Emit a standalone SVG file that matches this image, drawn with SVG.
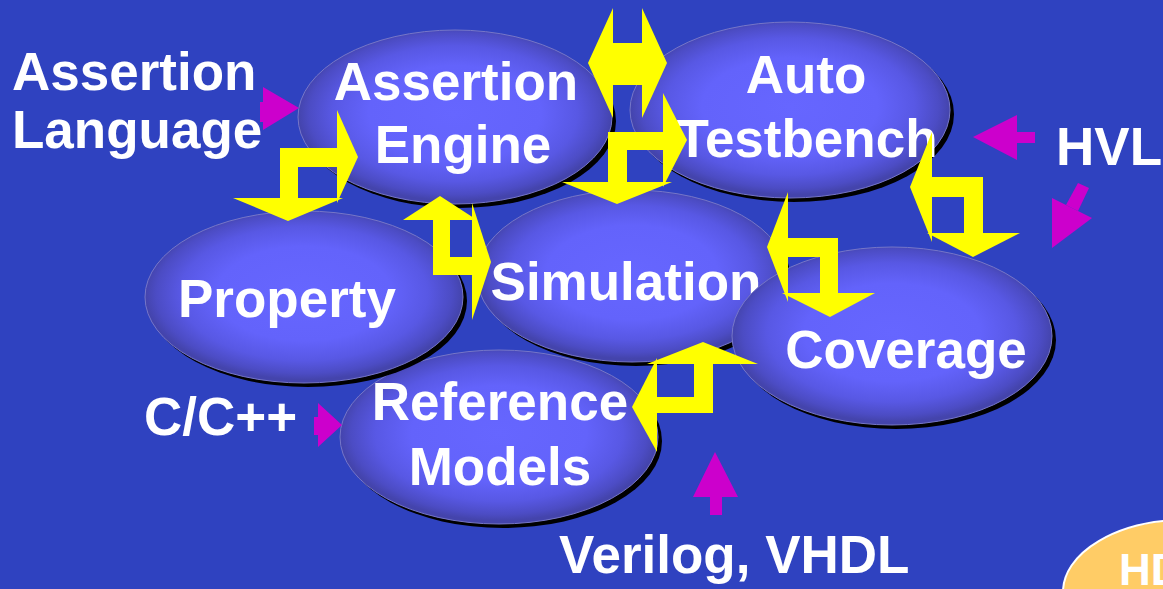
<svg xmlns="http://www.w3.org/2000/svg" width="1163" height="589" viewBox="0 0 1163 589">
<defs>
<radialGradient id="blob" cx="50%" cy="48%" r="50%">
<stop offset="0" stop-color="#6666ff"/>
<stop offset="0.55" stop-color="#6363fb"/>
<stop offset="0.78" stop-color="#5858e4"/>
<stop offset="0.93" stop-color="#4c4cc4"/>
<stop offset="1" stop-color="#4444ac"/>
</radialGradient>
<style>
.bg{fill:#2f42c0}
.shadow{fill:#000}
.blob{fill:url(#blob);stroke:#7676c8;stroke-width:1}
.lbl{font-family:"Liberation Sans",Arial,sans-serif;font-weight:bold;font-size:53px;fill:#fff}
.c{text-anchor:middle}
.yel{fill:#ffff00}
.mag{fill:#cc00cc}
</style>
</defs>
<rect class="bg" x="0" y="0" width="1163" height="589"/>

<g id="hdl">
<ellipse cx="1185" cy="592" rx="122" ry="72" fill="#ffcc66" stroke="#fff" stroke-width="2"/>
<text class="lbl" x="1119" y="585" style="font-size:44px">HD</text>
</g>

<g id="label-assertion-language">
<text class="lbl" x="12" y="90">Assertion</text>
<text class="lbl" x="12" y="148">Language</text>
</g>
<g id="label-hvl"><text class="lbl" x="1056" y="165">HVL</text></g>
<g id="label-cpp"><text class="lbl" x="144" y="435">C/C++</text></g>
<g id="label-verilog"><text class="lbl" x="559" y="573">Verilog, VHDL</text></g>

<g id="reference-models">
<ellipse class="shadow" cx="503" cy="441" rx="159" ry="87"/>
<ellipse class="blob" cx="499" cy="437" rx="159" ry="87"/>
<text class="lbl c" x="500" y="420">Reference</text>
<text class="lbl c" x="500" y="485">Models</text>
</g>
<g id="simulation">
<ellipse class="shadow" cx="636" cy="280" rx="155" ry="86"/>
<ellipse class="blob" cx="632" cy="276" rx="155" ry="86"/>
<text class="lbl c" x="626" y="300">Simulation</text>
</g>
<g id="property">
<ellipse class="shadow" cx="308" cy="301" rx="159" ry="86"/>
<ellipse class="blob" cx="304" cy="297" rx="159" ry="86"/>
<text class="lbl c" x="287" y="317">Property</text>
</g>
<g id="coverage">
<ellipse class="shadow" cx="896" cy="340" rx="160" ry="89"/>
<ellipse class="blob" cx="892" cy="336" rx="160" ry="89"/>
<text class="lbl c" x="906" y="368">Coverage</text>
</g>
<g id="assertion-engine">
<ellipse class="shadow" cx="459" cy="121" rx="157" ry="87"/>
<ellipse class="blob" cx="455" cy="117" rx="157" ry="87"/>
<text class="lbl c" x="456" y="100">Assertion</text>
<text class="lbl c" x="463" y="163">Engine</text>
</g>
<g id="auto-testbench">
<ellipse class="shadow" cx="794" cy="114" rx="160" ry="88"/>
<ellipse class="blob" cx="790" cy="110" rx="160" ry="88"/>
<text class="lbl c" x="806" y="93">Auto</text>
<text class="lbl c" x="807" y="157">Testbench</text>
</g>

<g id="connectors">
<g class="yel">
<polygon points="337,110 358,157 337,203"/>
<polygon points="233,198 343,198 288,221"/>
<rect x="280" y="148" width="57" height="19"/>
<rect x="280" y="148" width="18" height="50"/>
</g>
<g class="yel">
<polygon points="613,8 588,63 613,118"/>
<polygon points="642,8 667,63 642,118"/>
<rect x="612" y="43" width="31" height="42"/>
</g>
<g class="yel">
<polygon points="663,93 687,140 663,187"/>
<polygon points="562,182 672,182 617,204"/>
<rect x="608" y="132" width="55" height="18"/>
<rect x="608" y="132" width="19" height="50"/>
</g>
<g class="yel">
<polygon points="403,220 440,196 477,220"/>
<polygon points="472,203 491,262 472,320"/>
<rect x="433" y="220" width="17" height="55"/>
<rect x="433" y="257" width="39" height="18"/>
</g>
<g class="yel">
<polygon points="788,192 767,247 788,302"/>
<polygon points="782,293 875,293 830,317"/>
<rect x="788" y="238" width="50" height="19"/>
<rect x="820" y="238" width="18" height="55"/>
</g>
<g class="yel">
<polygon points="932,132 910,187 932,242"/>
<polygon points="927,233 1020,233 973,257"/>
<rect x="932" y="177" width="51" height="20"/>
<rect x="964" y="177" width="19" height="56"/>
</g>
<g class="yel">
<polygon points="647,364 703,342 758,364"/>
<polygon points="657,358 632,407 657,452"/>
<rect x="657" y="397" width="56" height="16"/>
<rect x="694" y="364" width="19" height="49"/>
</g>
<polygon class="mag" points="260,102 263,102 263,87 299,108 263,130 263,122 260,122"/>
<polygon class="mag" points="973,137 1017,115 1017,132 1035,132 1035,143 1017,143 1017,160"/>
<polygon class="mag" points="1052,248 1052,198 1092,218"/>
<polygon class="mag" points="1066,205 1078,211 1089,188 1078,183"/>
<polygon class="mag" points="314,417 318,417 318,403 342,425 318,447 318,435 314,435"/>
<polygon class="mag" points="715,452 738,497 722,497 722,515 710,515 710,497 693,497"/>
</g>
</svg>
